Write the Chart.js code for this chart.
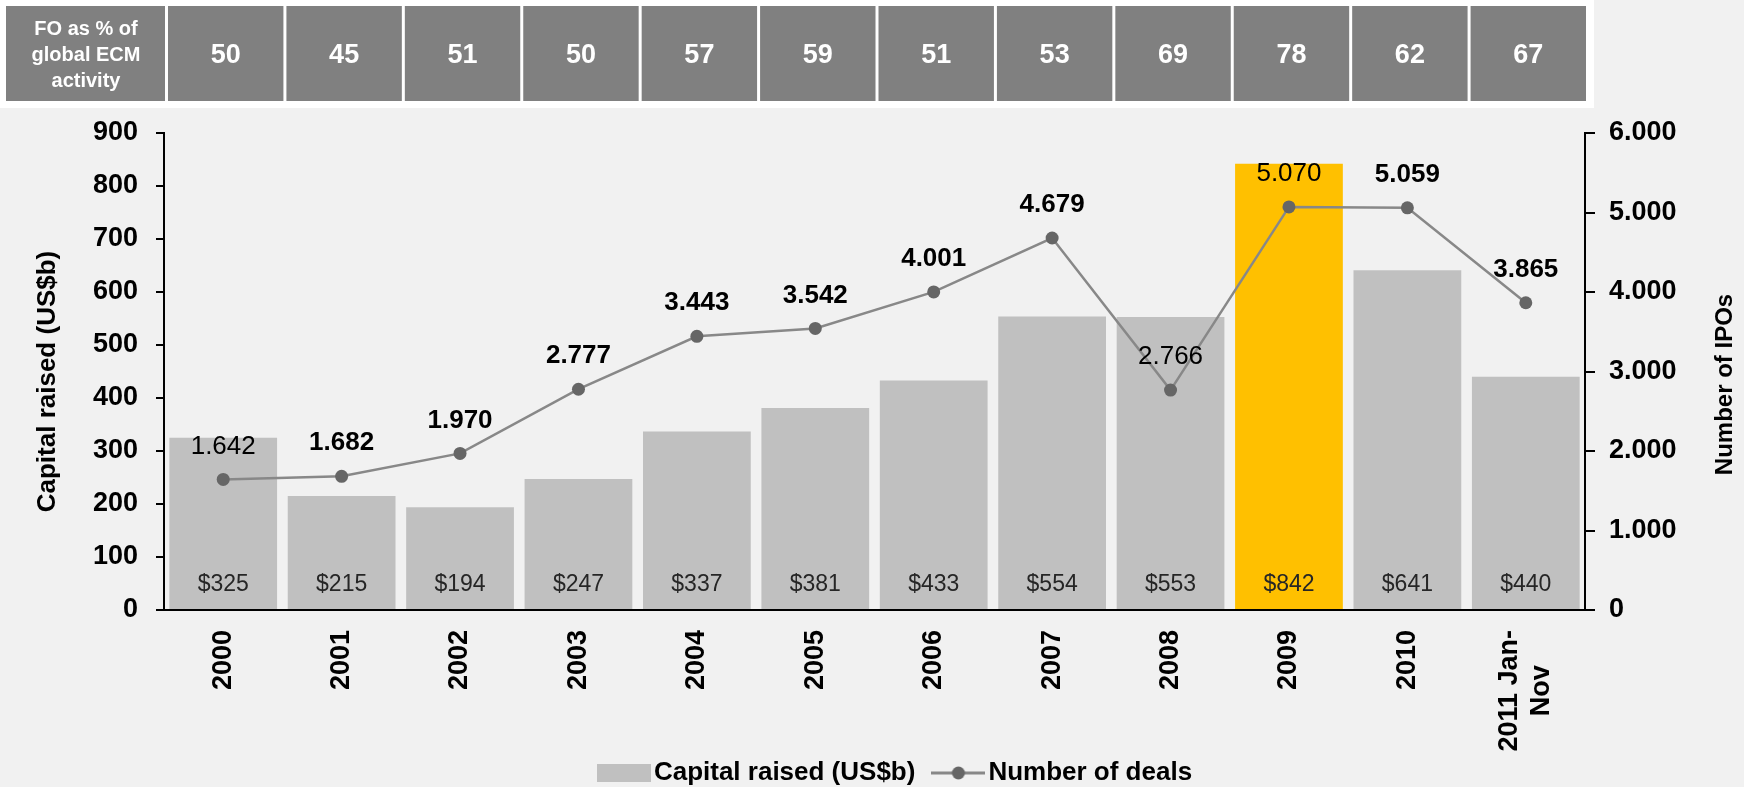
<!DOCTYPE html>
<html>
<head>
<meta charset="utf-8">
<title>FO capital raised and number of deals</title>
<script src="https://cdn.jsdelivr.net/npm/chart.js@4.4.1/dist/chart.umd.min.js"></script>
<style>
  html, body { margin: 0; padding: 0; background: #f1f1f1; }
  #wrap { width: 1744px; height: 787px; }
</style>
</head>
<body>
<div id="wrap"><canvas id="myChart" width="1744" height="787"></canvas></div>
<script>
// data
var years = ['2000', '2001', '2002', '2003', '2004', '2005', '2006', '2007', '2008', '2009', '2010', ['2011 Jan-', 'Nov']];
var capitalRaised = [325, 215, 194, 247, 337, 381, 433, 554, 553, 842, 641, 440];
var numberOfDeals = [1642, 1682, 1970, 2777, 3443, 3542, 4001, 4679, 2766, 5070, 5059, 3865];
var foShare = [50, 45, 51, 50, 57, 59, 51, 53, 69, 78, 62, 67];
var foLabel = ['FO as % of', 'global ECM', 'activity'];
var capitalAxis = [0, 900, 100];   // min, max, step
var dealsAxis = [0, 6000, 1000];
var highlightYear = '2009';

var FONT = "'Liberation Sans', Arial, sans-serif";
Chart.defaults.font.family = FONT;
Chart.defaults.color = '#000';

function dotThousands(n) {
  return String(n).replace(/\B(?=(\d{3})+(?!\d))/g, '.');
}

function makeIcon(w, h, draw) {
  var c = document.createElement('canvas');
  c.width = w;
  c.height = h;
  draw(c.getContext('2d'), w, h);
  return c;
}

var barIcon = makeIcon(54, 18, function(ctx, w, h) {
  ctx.fillStyle = '#c0c0c0';
  ctx.fillRect(0, 0, w, h);
});
var lineIcon = makeIcon(54, 16, function(ctx, w, h) {
  ctx.strokeStyle = '#888888';
  ctx.lineWidth = 3;
  ctx.beginPath();
  ctx.moveTo(0, h / 2);
  ctx.lineTo(w, h / 2);
  ctx.stroke();
  ctx.fillStyle = '#666666';
  ctx.beginPath();
  ctx.arc(w / 2, h / 2, 6.5, 0, Math.PI * 2);
  ctx.fill();
});

var barColors = years.map(function(y) {
  return y === highlightYear ? '#ffc000' : '#c0c0c0';
});

function rotatedText(ctx, text, x, y) {
  ctx.save();
  ctx.translate(x, y);
  ctx.rotate(-Math.PI / 2);
  ctx.fillText(text, 0, 0);
  ctx.restore();
}

// grey table above the plot, aligned to the x scale
var tablePlugin = {
  id: 'foTable',
  beforeDraw: function(chart) {
    var ctx = chart.ctx;
    var x = chart.scales.x;
    var w = x.width / years.length;
    ctx.save();
    ctx.fillStyle = '#f1f1f1';
    ctx.fillRect(0, 0, chart.width, chart.height);
    ctx.fillStyle = '#ffffff';
    ctx.fillRect(0, 0, x.right + 9, 108);
    ctx.fillStyle = '#808080';
    ctx.fillRect(6, 6, x.left - 5, 95);
    foShare.forEach(function(v, i) {
      var c = x.getPixelForValue(i);
      ctx.fillRect(c - w / 2 + 4, 6, w - 3, 95);
    });
    ctx.fillStyle = '#ffffff';
    ctx.textAlign = 'center';
    ctx.textBaseline = 'middle';
    ctx.font = 'bold 20px ' + FONT;
    foLabel.forEach(function(t, k) {
      ctx.fillText(t, (6 + x.left) / 2 + 1, 29 + k * 26);
    });
    ctx.font = 'bold 27px ' + FONT;
    foShare.forEach(function(v, i) {
      ctx.fillText(String(v), x.getPixelForValue(i) + 2.5, 56);
    });
    ctx.restore();
  }
};

// value labels, rotated year labels and axis titles
var labelPlugin = {
  id: 'valueLabels',
  afterDatasetsDraw: function(chart) {
    var ctx = chart.ctx;
    var area = chart.chartArea;
    var x = chart.scales.x;
    var y = chart.scales.y;
    var y1 = chart.scales.y1;
    var bars = chart.getDatasetMeta(0).data;
    var points = chart.getDatasetMeta(1).data;
    var midY = (area.top + area.bottom) / 2;
    ctx.save();
    ctx.textAlign = 'center';
    ctx.textBaseline = 'middle';

    ctx.fillStyle = '#262626';
    ctx.font = '23px ' + FONT;
    bars.forEach(function(bar, i) {
      ctx.fillText('$' + capitalRaised[i], bar.x, y.getPixelForValue(0) - 25);
    });

    ctx.fillStyle = '#000';
    points.forEach(function(pt, i) {
      var ly = pt.y - 33;
      var inside = ly > bars[i].y;
      ctx.font = (inside ? '' : 'bold ') + '26px ' + FONT;
      ctx.fillText(dotThousands(numberOfDeals[i]), pt.x, ly);
    });

    // year labels, read bottom to top, multi-line ones centred
    ctx.font = 'bold 27px ' + FONT;
    years.forEach(function(lab, i) {
      var lines = [].concat(lab);
      var maxW = Math.max.apply(null, lines.map(function(l) { return ctx.measureText(l).width; }));
      var cx = x.getPixelForValue(i);
      var cy = area.bottom + 20 + maxW / 2;
      lines.forEach(function(l, k) {
        rotatedText(ctx, l, cx + (k - (lines.length - 1) / 2) * 32, cy);
      });
    });

    ctx.font = 'bold 26px ' + FONT;
    rotatedText(ctx, 'Capital raised (US$b)', 48, midY + 10);
    ctx.font = 'bold 24px ' + FONT;
    rotatedText(ctx, 'Number of IPOs', y1.left + 140, midY + 13);
    ctx.restore();
  }
};

// move the legend row a little to the right, as in the original
var legendNudge = {
  id: 'legendNudge',
  afterLayout: function(chart) {
    if (chart.legend) {
      chart.legend.left += 25;
      chart.legend.right += 25;
    }
  }
};

var tickFont = { size: 27, weight: 'bold' };

var ctx = document.getElementById('myChart');
var chart = new Chart(ctx, {
  type: 'bar',
  data: {
    labels: years,
    datasets: [{
      type: 'bar',
      label: 'Capital raised (US$b)',
      data: capitalRaised,
      backgroundColor: barColors,
      borderWidth: 0,
      categoryPercentage: 1,
      barPercentage: 0.91,
      yAxisID: 'y',
      order: 2
    }, {
      type: 'line',
      label: 'Number of deals',
      data: numberOfDeals,
      borderColor: '#888888',
      borderWidth: 2.5,
      pointRadius: 6.5,
      pointBorderWidth: 0,
      pointBackgroundColor: '#666666',
      pointBorderColor: '#666666',
      tension: 0,
      yAxisID: 'y1',
      order: 1
    }]
  },
  options: {
    responsive: false,
    animation: false,
    devicePixelRatio: 1,
    layout: { padding: { top: 133, left: 0, right: 0, bottom: -9 } },
    plugins: {
      tooltip: { enabled: false },
      legend: {
        position: 'bottom',
        fullSize: false,
        labels: {
          color: '#000',
          font: { size: 26, weight: 'bold' },
          usePointStyle: true,
          pointStyleWidth: 34,
          boxHeight: 18,
          padding: 26,
          sort: function(a, b) { return a.datasetIndex - b.datasetIndex; },
          generateLabels: function(chart) {
            var items = Chart.defaults.plugins.legend.labels.generateLabels(chart);
            items.forEach(function(it) {
              it.pointStyle = it.datasetIndex === 0 ? barIcon : lineIcon;
            });
            return items;
          }
        }
      }
    },
    scales: {
      x: {
        grid: { display: false, drawTicks: false },
        border: { display: true, color: '#000', width: 2 },
        ticks: { display: false },
        afterFit: function(s) { s.height = 124; }
      },
      y: {
        position: 'left',
        min: capitalAxis[0],
        max: capitalAxis[1],
        ticks: { stepSize: capitalAxis[2], color: '#000', font: tickFont, padding: 18 },
        grid: { drawOnChartArea: false, drawTicks: true, tickLength: 8, color: '#000', lineWidth: 2 },
        border: { display: true, color: '#000', width: 2 },
        afterFit: function(s) { s.width = 164; }
      },
      y1: {
        position: 'right',
        min: dealsAxis[0],
        max: dealsAxis[1],
        ticks: {
          stepSize: dealsAxis[2],
          color: '#000',
          font: tickFont,
          padding: 14,
          callback: function(v) { return dotThousands(v); }
        },
        grid: { drawOnChartArea: false, drawTicks: true, tickLength: 10, color: '#000', lineWidth: 2 },
        border: { display: true, color: '#000', width: 2 },
        afterFit: function(s) { s.width = 159; }
      }
    }
  },
  plugins: [tablePlugin, labelPlugin, legendNudge]
});
</script>
</body>
</html>
